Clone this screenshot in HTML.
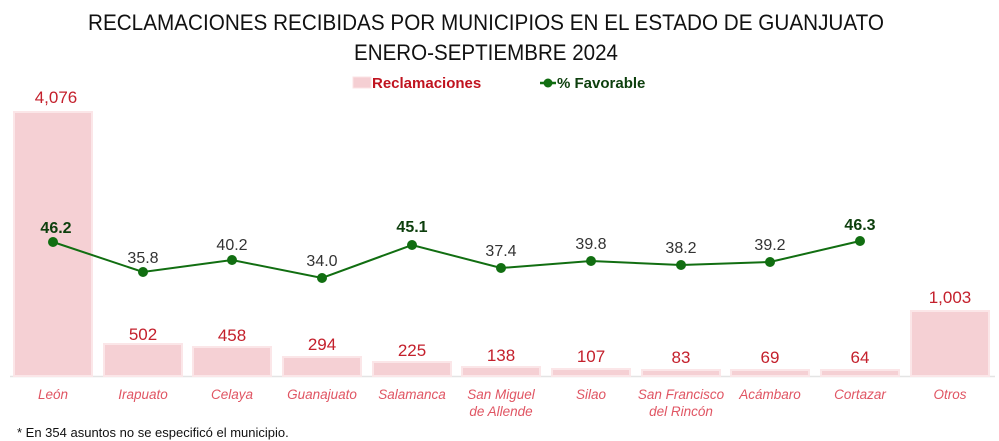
<!DOCTYPE html>
<html><head><meta charset="utf-8"><style>
html,body{margin:0;padding:0;background:#fff;}
svg{display:block;}
</style></head><body>
<svg width="999" height="441" viewBox="0 0 999 441" xmlns="http://www.w3.org/2000/svg" font-family="'Liberation Sans', sans-serif">
<text x="486" y="30" text-anchor="middle" font-size="22" textLength="796" lengthAdjust="spacingAndGlyphs" fill="#111">RECLAMACIONES RECIBIDAS POR MUNICIPIOS EN EL ESTADO DE GUANJUATO</text>
<text x="486" y="60" text-anchor="middle" font-size="22" textLength="264" lengthAdjust="spacingAndGlyphs" fill="#111">ENERO-SEPTIEMBRE 2024</text>
<rect x="353" y="77" width="18" height="11" fill="#f5cfd3" stroke="#fbe3e5"/>
<text x="372" y="88" font-size="15" font-weight="bold" fill="#c0131f">Reclamaciones</text>
<line x1="540" y1="83" x2="556" y2="83" stroke="#116e11" stroke-width="2.5"/>
<circle cx="548" cy="83" r="4.5" fill="#116e11"/>
<text x="557" y="88" font-size="15" font-weight="bold" fill="#0d3f0d">% Favorable</text>
<line x1="10" y1="376.5" x2="995" y2="376.5" stroke="#e4e4e4" stroke-width="1.5"/>
<g fill="#f5d0d4" stroke="#fbe6e8" stroke-width="2">
<rect x="14" y="112" width="78" height="264"/>
<rect x="104" y="344" width="78" height="32"/>
<rect x="193" y="347" width="78" height="29"/>
<rect x="283" y="357" width="78" height="19"/>
<rect x="373" y="362" width="78" height="14"/>
<rect x="462" y="367" width="78" height="9"/>
<rect x="552" y="369" width="78" height="7"/>
<rect x="642" y="370" width="78" height="6"/>
<rect x="731" y="370" width="78" height="6"/>
<rect x="821" y="370" width="78" height="6"/>
<rect x="911" y="311" width="78" height="65"/>
</g>
<g fill="#c4202c" font-size="17" text-anchor="middle">
<text x="56" y="103">4,076</text>
<text x="143" y="340">502</text>
<text x="232" y="341">458</text>
<text x="322" y="350">294</text>
<text x="412" y="356">225</text>
<text x="501" y="361">138</text>
<text x="591" y="362">107</text>
<text x="681" y="363">83</text>
<text x="770" y="363">69</text>
<text x="860" y="363">64</text>
<text x="950" y="303">1,003</text>
</g>
<g fill="#e05563" font-size="13.5" font-style="italic" text-anchor="middle">
<text x="53" y="399">León</text>
<text x="143" y="399">Irapuato</text>
<text x="232" y="399">Celaya</text>
<text x="322" y="399">Guanajuato</text>
<text x="412" y="399">Salamanca</text>
<text x="501" y="399">San Miguel</text>
<text x="501" y="416">de Allende</text>
<text x="591" y="399">Silao</text>
<text x="681" y="399">San Francisco</text>
<text x="681" y="416">del Rincón</text>
<text x="770" y="399">Acámbaro</text>
<text x="860" y="399">Cortazar</text>
<text x="950" y="399">Otros</text>
</g>
<polyline fill="none" stroke="#116e11" stroke-width="2" points="53,242 143,272 232,260 322,278 412,245 501,268 591,261 681,265 770,262 860,241"/>
<g fill="#116e11">
<circle cx="53" cy="242" r="5"/><circle cx="143" cy="272" r="5"/><circle cx="232" cy="260" r="5"/><circle cx="322" cy="278" r="5"/><circle cx="412" cy="245" r="5"/><circle cx="501" cy="268" r="5"/><circle cx="591" cy="261" r="5"/><circle cx="681" cy="265" r="5"/><circle cx="770" cy="262" r="5"/><circle cx="860" cy="241" r="5"/>
</g>
<g font-size="16" text-anchor="middle" fill="#333">
<text x="56" y="233" font-weight="bold" fill="#0d3f0d">46.2</text>
<text x="143" y="263">35.8</text>
<text x="232" y="250">40.2</text>
<text x="322" y="266">34.0</text>
<text x="412" y="232" font-weight="bold" fill="#0d3f0d">45.1</text>
<text x="501" y="256">37.4</text>
<text x="591" y="249">39.8</text>
<text x="681" y="253">38.2</text>
<text x="770" y="250">39.2</text>
<text x="860" y="230" font-weight="bold" fill="#0d3f0d">46.3</text>
</g>
<text x="17" y="437" font-size="13" fill="#111">* En 354 asuntos no se especificó el municipio.</text>
</svg>
</body></html>
